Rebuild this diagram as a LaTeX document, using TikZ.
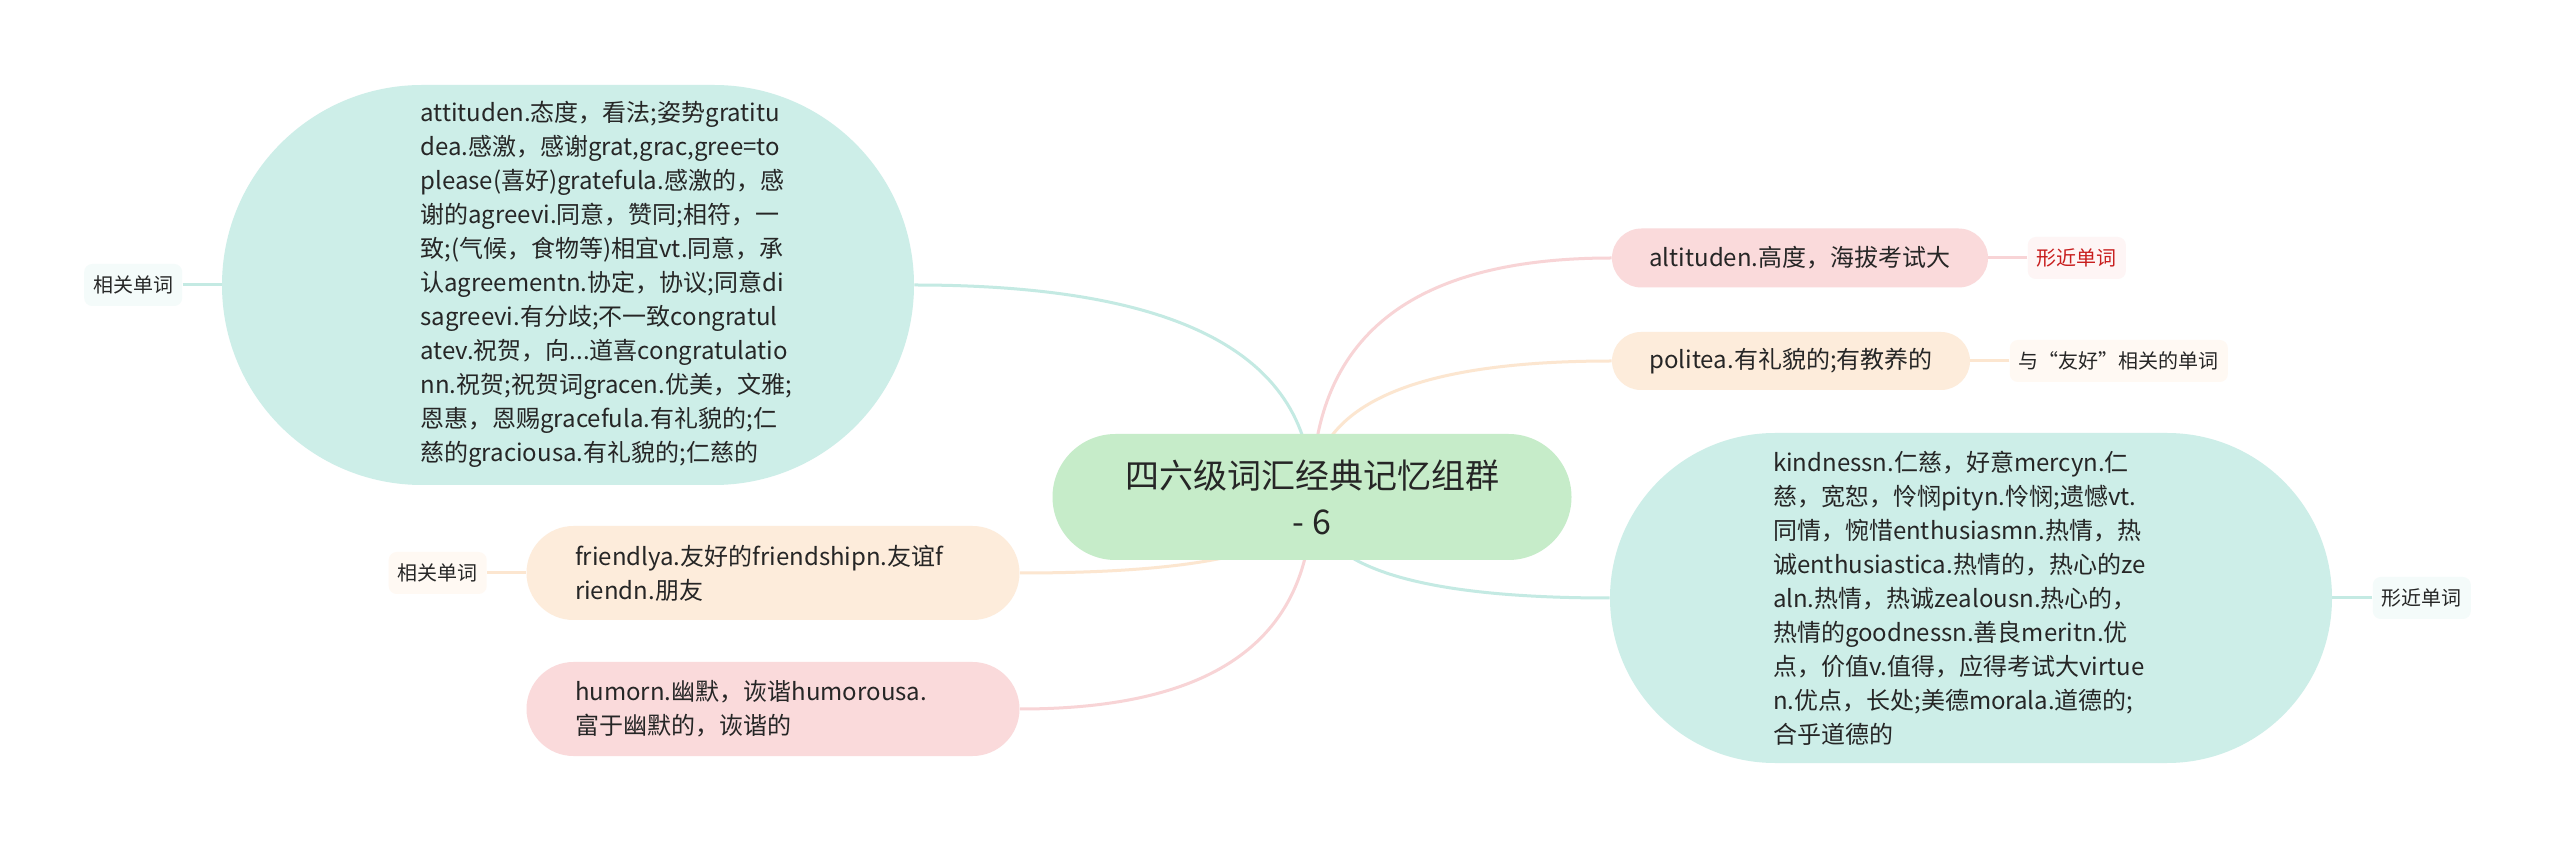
\documentclass[tikz,border=0pt]{standalone}
\usepackage{fontspec}
\setmainfont{Noto Sans CJK SC}
\usepackage{tikz}
\usetikzlibrary{positioning, calc, backgrounds}

\definecolor{rootfill}{RGB}{198,236,201}
\definecolor{tealfill}{RGB}{205,238,232}
\definecolor{pinkfill}{RGB}{250,218,219}
\definecolor{peachfill}{RGB}{253,236,219}
\definecolor{tealline}{RGB}{196,234,227}
\definecolor{pinkline}{RGB}{248,212,214}
\definecolor{peachline}{RGB}{252,230,208}
\definecolor{tealtag}{RGB}{244,251,250}
\definecolor{pinktag}{RGB}{254,245,245}
\definecolor{peachtag}{RGB}{255,249,243}
\definecolor{inktext}{RGB}{38,38,38}
\definecolor{redtext}{RGB}{200,30,30}

\begin{document}
\begin{tikzpicture}[x=0.5pt, y=-0.5pt, line cap=round]

	\tikzset{
		pill/.style={
				rectangle, rounded corners=#1, minimum height=2*#1, inner sep=0pt, text=inktext
			},
		body/.style={
				font=\fontsize{12pt}{17pt}\selectfont, align=left, text width=198pt, inner sep=0pt, text=inktext
			},
		tag/.style={
				rectangle, rounded corners=4pt, minimum height=21pt, inner xsep=4.5pt, inner ysep=0pt, font=\fontsize{10pt}{12pt}\selectfont, text=inktext
			},
		link/.style={
				line width=1.5pt
			},
		branch/.style={
				to path={(\tikztostart) .. controls ($(\tikztostart)!0.67!(\tikztostart |- \tikztotarget)$) and ($(\tikztotarget)!0.67!(\tikztostart |- \tikztotarget)$) .. (\tikztotarget)}
			},
	}
	\useasboundingbox (0,0) rectangle (2560,849);

	\node[pill=31.5pt, fill=rootfill, minimum width=259.5pt, font=\fontsize{17pt}{23pt}\selectfont, align=center](root) at (1312,497){四六级词汇经典记忆组群\\- 6};

	% left
	\node[pill=100pt, fill=tealfill, minimum width=346pt](b1) at (568,285){};
	\node[body, anchor=west](t1) at (420,284){attituden.态度，看法;姿势gratitu\\dea.感激，感谢grat,grac,gree=to\\please(喜好)gratefula.感激的，感\\谢的agreevi.同意，赞同;相符，一\\致;(气候，食物等)相宜vt.同意，承\\认agreementn.协定，协议;同意di\\sagreevi.有分歧;不一致congratul\\atev.祝贺，向...道喜congratulatio\\nn.祝贺;祝贺词gracen.优美，文雅;\\恩惠，恩赐gracefula.有礼貌的;仁\\慈的graciousa.有礼貌的;仁慈的};
	\node[pill=23.5pt, body, fill=peachfill, minimum width=246.5pt](b5) at (773,573){friendlya.友好的friendshipn.友谊f\\riendn.朋友};
	\node[pill=23.5pt, body, fill=pinkfill, minimum width=246.5pt](b6) at (773,709){humorn.幽默，诙谐humorousa.\\富于幽默的，诙谐的};

	% right
	\node[pill=14.75pt, fill=pinkfill, minimum width=188pt, font=\fontsize{12pt}{17pt}\selectfont](b2) at (1800,258){altituden.高度，海拔考试大};
	\node[pill=14.5pt, fill=peachfill, minimum width=179pt, font=\fontsize{12pt}{17pt}\selectfont](b3) at (1791,361){politea.有礼貌的;有教养的};
	\node[pill=82.5pt, body, fill=tealfill, minimum width=361pt](b4) at (1971,598){kindnessn.仁慈，好意mercyn.仁\\慈，宽恕，怜悯pityn.怜悯;遗憾vt.\\同情，惋惜enthusiasmn.热情，热\\诚enthusiastica.热情的，热心的ze\\aln.热情，热诚zealousn.热心的，\\热情的goodnessn.善良meritn.优\\点，价值v.值得，应得考试大virtue\\n.优点，长处;美德morala.道德的;\\合乎道德的};

	\node[tag, fill=tealtag, left=19.5pt of b1](l1){相关单词};
	\node[tag, fill=peachtag, left=19.5pt of b5](l5){相关单词};
	\node[tag, fill=pinktag, text=redtext, right=19.5pt of b2](l2){形近单词};
	\node[tag, fill=peachtag, right=19.5pt of b3](l3){与“友好”相关的单词};
	\node[tag, fill=tealtag, right=20pt of b4](l4){形近单词};

	\begin{pgfonlayer}{background}
		\fill[white] (0,0) rectangle (2560,849);

		\draw[link, tealline] (root.center) to[branch] (b1.east);
		\draw[link, pinkline] (root.center) to[branch] (b2.west);
		\draw[link, peachline] (root.center) to[branch] (b3.west);
		\draw[link, tealline] (root.center) to[branch] (b4.west);
		\draw[link, peachline] (root.center) to[branch] (b5.east);
		\draw[link, pinkline] (root.center) to[branch] (b6.east);

		\draw[link, tealline] (l1) -- (b1);
		\draw[link, peachline] (l5) -- (b5);
		\draw[link, pinkline] (l2) -- (b2);
		\draw[link, peachline] (l3) -- (b3);
		\draw[link, tealline] (l4) -- (b4);
	\end{pgfonlayer}

\end{tikzpicture}
\end{document}
